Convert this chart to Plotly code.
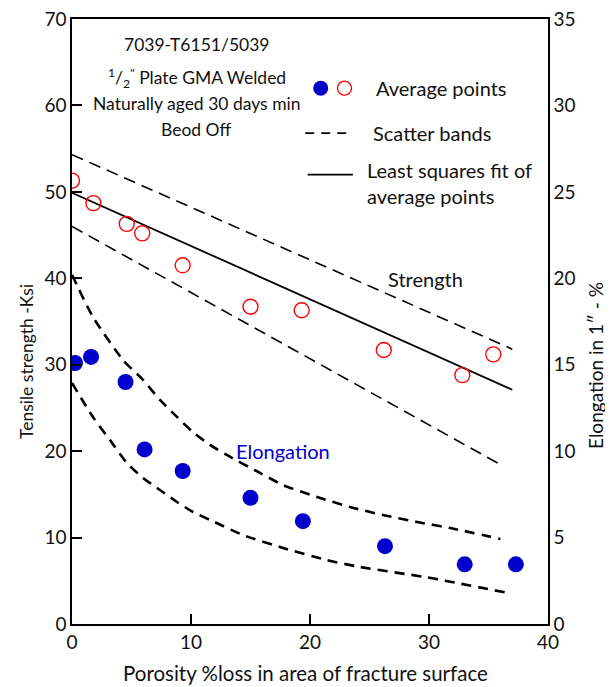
import plotly.graph_objects as go

# ---- data ----
strength_x = [0.0, 1.8, 4.6, 5.9, 9.3, 15.0, 19.3, 26.2, 32.8, 35.4]
strength_y = [51.3, 48.7, 46.3, 45.2, 41.5, 36.7, 36.3, 31.7, 28.8, 31.2]

elong_x = [0.25, 1.6, 4.5, 6.1, 9.3, 15.0, 19.4, 26.3, 33.0, 37.3]
elong_y = [15.1, 15.45, 14.0, 10.1, 8.85, 7.3, 5.95, 4.5, 3.45, 3.45]

fit_x = [0, 37]
fit_y = [49.9, 27.1]
band_hi_x = [0, 37]
band_hi_y = [54.3, 31.8]
band_lo_x = [0, 35.8]
band_lo_y = [46.0, 18.6]

el_hi_x = [0, 1.76, 4.29, 5.97, 7.39, 8.82, 10.17, 11.6, 13.0, 15.8, 17.73, 20.6,
           23.36, 26.1, 29.0, 31.8, 36.0]
el_hi_y = [20.2, 17.76, 15.27, 14.12, 12.96, 11.98, 11.1, 10.36, 9.78, 8.74, 8.04, 7.35,
           6.77, 6.31, 5.9, 5.55, 4.92]
el_lo_x = [0, 1.76, 3.19, 4.62, 5.97, 7.39, 8.82, 10.17, 11.6, 14.37, 17.73, 21.4,
           24.2, 29.8, 36.6]
el_lo_y = [13.94, 11.97, 10.64, 9.31, 8.45, 7.75, 7.06, 6.48, 6.02, 5.15, 4.4, 3.7,
           3.3, 2.7, 1.8]

x_ticks = [0, 10, 20, 30, 40]
y_ticks = [0, 10, 20, 30, 40, 50, 60, 70]
y2_ticks = [0, 5, 10, 15, 20, 25, 30, 35]

FONT = "Lato"
fig = go.Figure()

fig.add_trace(go.Scatter(x=band_hi_x, y=band_hi_y, mode="lines",
                         line=dict(color="black", width=1.6, dash="12px,7px")))
fig.add_trace(go.Scatter(x=band_lo_x, y=band_lo_y, mode="lines",
                         line=dict(color="black", width=1.6, dash="12px,7px")))
fig.add_trace(go.Scatter(x=fit_x, y=fit_y, mode="lines",
                         line=dict(color="black", width=1.8)))
fig.add_trace(go.Scatter(x=el_hi_x, y=el_hi_y, mode="lines", yaxis="y2",
                         line=dict(color="black", width=2.6, dash="10px,7px", shape="spline", smoothing=0.6)))
fig.add_trace(go.Scatter(x=el_lo_x, y=el_lo_y, mode="lines", yaxis="y2",
                         line=dict(color="black", width=2.6, dash="10px,7px", shape="spline", smoothing=0.6)))
fig.add_trace(go.Scatter(x=strength_x, y=strength_y, mode="markers",
                         marker=dict(symbol="circle-open", size=15, color="red",
                                     line=dict(width=1.4, color="red"))))
fig.add_trace(go.Scatter(x=elong_x, y=elong_y, mode="markers", yaxis="y2",
                         marker=dict(symbol="circle", size=16, color="#0000CC")))

annots = []
def txt(x, y, s, size=17, color="#111", xanchor="center", align="center"):
    annots.append(dict(x=x, y=y, xref="x", yref="y", text=s, showarrow=False,
                       font=dict(family=FONT, size=size, color=color),
                       xanchor=xanchor, yanchor="middle", align=align))

txt(10.5, 67.0, "7039-T6151/5039", size=17.5)
txt(10.5, 63.2, "<sup>1</sup>/<sub>2</sub><sup>\"</sup> Plate GMA Welded", size=17.5)
txt(10.5, 60.2, "Naturally aged 30 days min", size=17.5)
txt(10.5, 57.2, "Beod Off", size=17.5)
txt(25.4, 62.0, "Average points", size=20, xanchor="left")
txt(25.1, 56.8, "Scatter bands", size=20, xanchor="left")
txt(24.6, 51.0, "Least squares fit of<br>average points", size=20, xanchor="left", align="left")
txt(29.7, 39.9, "Strength", size=20)
txt(17.7, 20.0, "Elongation", size=20, color="#0000CC")

def ptxt(px, py, s, angle=0, size=19):
    annots.append(dict(x=(px - 72) / 476, y=(624 - py) / 605, xref="paper", yref="paper",
                       text=s, showarrow=False, textangle=angle,
                       font=dict(family=FONT, size=size, color="#111"),
                       xanchor="center", yanchor="middle"))

ptxt(305, 673, "Porosity %loss in area of fracture surface", size=20.5)
ptxt(26, 362, "Tensile strength -Ksi", angle=-90, size=17.5)
ptxt(595, 366, "Elongation in 1\u2033 - %", angle=-90, size=19)

shapes = [
    dict(type="circle", xref="x", yref="y", xsizemode="pixel", ysizemode="pixel",
         xanchor=20.9, yanchor=62.0, x0=-7.5, x1=7.5, y0=-7.5, y1=7.5,
         fillcolor="#0000CC", line=dict(color="#0000CC", width=0)),
    dict(type="circle", xref="x", yref="y", xsizemode="pixel", ysizemode="pixel",
         xanchor=22.9, yanchor=62.0, x0=-7, x1=7, y0=-7, y1=7,
         fillcolor="rgba(0,0,0,0)", line=dict(color="red", width=1.4)),
    dict(type="line", xref="x", yref="y", x0=19.6, x1=23.5, y0=56.8, y1=56.8,
         line=dict(color="black", width=1.6, dash="9px,7px")),
    dict(type="line", xref="x", yref="y", x0=19.8, x1=23.6, y0=52.0, y1=52.0,
         line=dict(color="black", width=1.8)),
]

fig.update_layout(
    width=613, height=687,
    margin=dict(l=64, r=73, t=11, b=71, autoexpand=False),
    paper_bgcolor="white", plot_bgcolor="white",
    showlegend=False,
    font=dict(family=FONT, size=19, color="#111"),
    annotations=annots,
    shapes=shapes,
    xaxis=dict(range=[0, 40], tickvals=x_ticks, ticks="inside", ticklen=10,
               tickcolor="black", tickwidth=1.5, showline=True, linecolor="black",
               linewidth=1.5, mirror=True, showgrid=False, zeroline=False,
               tickfont=dict(size=19), automargin=False, ticklabeloverflow="allow"),
    yaxis=dict(range=[0, 70], tickvals=y_ticks, ticks="inside", ticklen=10,
               tickcolor="black", tickwidth=1.5, showline=True, linecolor="black",
               linewidth=1.5, showgrid=False, zeroline=False,
               tickfont=dict(size=19), automargin=False, ticklabeloverflow="allow"),
    yaxis2=dict(range=[0, 35], tickvals=y2_ticks, overlaying="y", side="right",
                ticks="", showline=True, linecolor="black", linewidth=1.5,
                showgrid=False, zeroline=False, tickfont=dict(size=19),
                automargin=False, ticklabeloverflow="allow"),
)

fig.write_html("out.html")
